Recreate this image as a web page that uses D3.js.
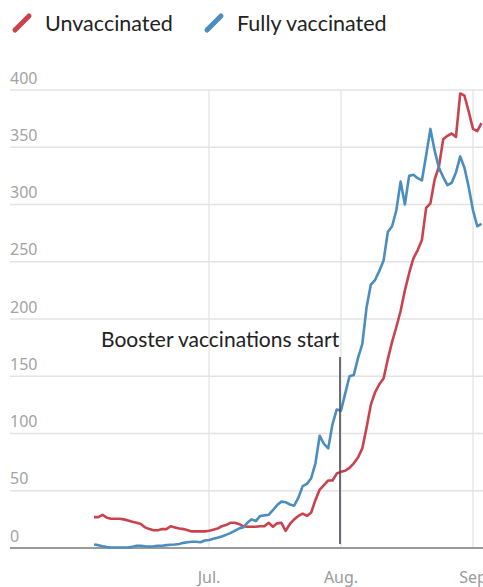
<!DOCTYPE html>
<html>
<head>
<meta charset="utf-8">
<script src="https://cdn.jsdelivr.net/npm/d3@7"></script>
<style>
  html, body { margin: 0; padding: 0; background: #fff; overflow: hidden; }
  svg { display: block; }
</style>
</head>
<body>
<script>
// ---------- DATA ----------
const startDate = "2021-06-04";
const seriesNames = ["Unvaccinated", "Fully vaccinated"];
const unvaccinated = [
  27, 27, 29, 26.5, 25.5, 25.5, 25.5, 25, 24, 23, 22, 21, 18, 16.5, 15.5, 15.5, 16.5, 16.5, 19, 18, 17, 16.5, 15.5, 14.5, 14.5, 14.5, 14.5,
  15, 16, 17, 19, 20, 22, 22, 21, 19, 18.5, 18.5, 18.5, 19, 19, 22, 18.5, 21.5, 22, 15, 21, 25, 28, 30, 28, 31,
  42, 51, 55, 59, 59, 65, 66.5, 67.5, 70, 74, 79, 87, 105, 125, 136, 143, 148, 165, 180, 193, 207, 225, 240, 253, 260,
  269, 297, 301, 322, 333, 357, 360, 362, 359, 397, 395, 381, 366, 364, 371
];
const fullyVaccinated = [
  3, 2.5, 1.5, 0.8, 0.5, 0.5, 0.5, 0.5, 0.5, 1, 2, 2, 1.5, 1.2, 1.5, 2, 2, 2.5, 2.8, 3, 3.5, 4.5, 5, 5.5, 5.5, 5, 6.5,
  7, 8, 9, 10, 11.5, 13, 15, 17, 18, 22, 25, 23.5, 28, 28.5, 29, 33, 37.5, 40.5, 40, 38, 37, 44, 54, 56, 61,
  74, 98, 91, 87, 108, 121, 120, 135, 150, 151, 166, 178, 210, 230, 234, 242, 251, 276, 281, 295, 320, 300, 325, 326, 323,
  321, 343, 366, 347, 332, 324, 317, 319, 328, 342, 332, 315, 295, 281, 283
];
const yTicks = [0, 50, 100, 150, 200, 250, 300, 350, 400];
const xTickDates = ["2021-07-01", "2021-08-01", "2021-09-01"];
const xTickLabels = ["Jul.", "Aug.", "Sep"];
const boosterDate = "2021-08-01";
const boosterLabel = "Booster vaccinations start";

// ---------- SETUP ----------
const W = 483, H = 587;
const colors = ["#c9434e", "#4c8dbf"];
const parse = d3.utcParse("%Y-%m-%d");
const t0 = parse(startDate);
const dates = unvaccinated.map((_, i) => d3.utcDay.offset(t0, i));

const svg = d3.select("body").append("svg").attr("width", W).attr("height", H);

const x = d3.scaleUtc()
  .domain([parse("2021-07-01"), parse("2021-09-01")])
  .range([209, 473]);
const y = d3.scaleLinear().domain([0, 400]).range([548, 90]);

// horizontal grid + y labels
const gy = svg.append("g");
yTicks.forEach(v => {
  if (v !== 0) {
    gy.append("line")
      .attr("x1", 10).attr("x2", W)
      .attr("y1", y(v)).attr("y2", y(v))
      .attr("stroke", "#e3e3e3").attr("stroke-width", 1.3);
  }
  gy.append("text")
    .attr("x", 10).attr("y", y(v) - 6.5)
    .attr("font-family", "'Noto Sans', 'Open Sans', sans-serif")
    .attr("font-size", 16)
    .attr("fill", "#a3a3a3")
    .text(v);
});

// vertical grid
xTickDates.forEach(d => {
  svg.append("line")
    .attr("x1", x(parse(d))).attr("x2", x(parse(d)))
    .attr("y1", y(400)).attr("y2", y(0))
    .attr("stroke", "#e3e3e3").attr("stroke-width", 1.3);
});

// zero baseline
svg.append("line")
  .attr("x1", 10).attr("x2", W)
  .attr("y1", y(0)).attr("y2", y(0))
  .attr("stroke", "#9a9a9a").attr("stroke-width", 2);

// x labels
xTickDates.forEach((d, i) => {
  svg.append("text")
    .attr("x", x(parse(d))).attr("y", 583)
    .attr("text-anchor", "middle")
    .attr("font-family", "'Noto Sans', 'Open Sans', sans-serif")
    .attr("font-size", 16)
    .attr("fill", "#9a9a9a")
    .text(xTickLabels[i]);
});

// lines
const line = d3.line()
  .x((d, i) => x(dates[i]))
  .y(d => y(d));

[unvaccinated, fullyVaccinated].forEach((s, k) => {
  svg.append("path")
    .datum(s)
    .attr("d", line)
    .attr("fill", "none")
    .attr("stroke", colors[k])
    .attr("stroke-width", 2.6)
    .attr("stroke-linejoin", "round");
});

// booster annotation
const bx = x(parse(boosterDate)) - 1;
svg.append("line")
  .attr("x1", bx).attr("x2", bx)
  .attr("y1", 357).attr("y2", 544)
  .attr("stroke", "#4a4a55").attr("stroke-width", 1.6);
svg.append("text")
  .attr("x", 101).attr("y", 346.5)
  .attr("font-family", "Lato, 'Open Sans', sans-serif")
  .attr("font-size", 21)
  .attr("fill", "#222")
  .text(boosterLabel);

// legend
const legendX = [14, 206];
const legendTextX = [45, 237];
seriesNames.forEach((name, k) => {
  svg.append("line")
    .attr("x1", legendX[k] + 1).attr("y1", 30)
    .attr("x2", legendX[k] + 15).attr("y2", 16)
    .attr("stroke", colors[k]).attr("stroke-width", 5)
    .attr("stroke-linecap", "round");
  svg.append("text")
    .attr("x", legendTextX[k]).attr("y", 30.5)
    .attr("font-family", "Lato, 'Open Sans', sans-serif")
    .attr("font-size", 21.5)
    .attr("fill", "#222")
    .text(name);
});
</script>
</body>
</html>
